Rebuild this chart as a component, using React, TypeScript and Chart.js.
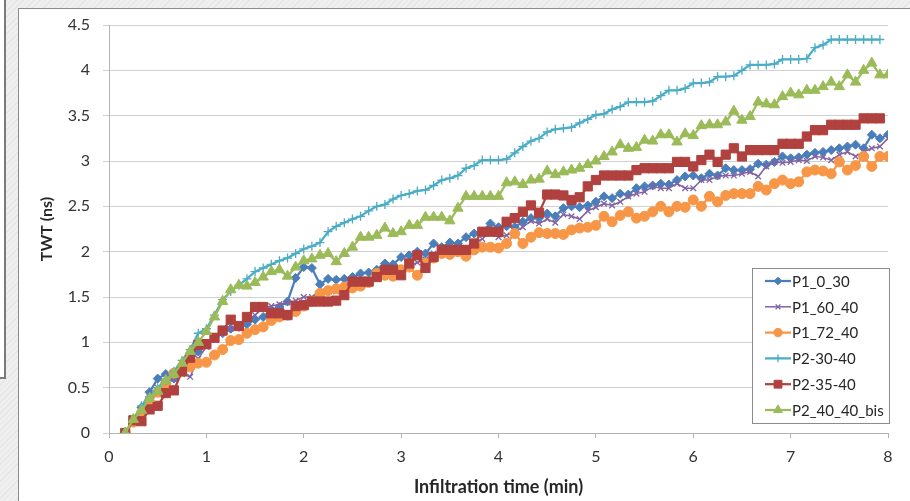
import React, { useEffect, useRef } from 'react';
import { Chart, registerables } from 'chart.js';
import { drawPoint } from 'chart.js/helpers';

Chart.register(...registerables);

// sample times in seconds (5 s acquisition step)
const timeSec = [
  10, 15, 20, 25, 30, 35, 40, 45, 50, 55,
  60, 65, 70, 75, 80, 85, 90, 95, 100, 105,
  110, 115, 120, 125, 130, 135, 140, 145, 150, 155,
  160, 165, 170, 175, 180, 185, 190, 195, 200, 205,
  210, 215, 220, 225, 230, 235, 240, 245, 250, 255,
  260, 265, 270, 275, 280, 285, 290, 295, 300, 305,
  310, 315, 320, 325, 330, 335, 340, 345, 350, 355,
  360, 365, 370, 375, 380, 385, 390, 395, 400, 405,
  410, 415, 420, 425, 430, 435, 440, 445, 450, 455,
  460, 465, 470, 475, 480,
];

const p1_0_30 = [
  0, 0.15, 0.28, 0.45, 0.6, 0.65, 0.6, 0.7, 0.8, 0.9,
  0.98, 1.05, 1.1, 1.15, 1.17, 1.2, 1.25, 1.28, 1.36, 1.39,
  1.45, 1.71, 1.83, 1.82, 1.64, 1.7, 1.69, 1.7, 1.72, 1.76,
  1.77, 1.8, 1.87, 1.86, 1.94, 1.96, 2.0, 1.98, 2.09, 2.05,
  2.1, 2.09, 2.16, 2.2, 2.22, 2.31, 2.27, 2.28, 2.27, 2.33,
  2.37, 2.37, 2.42, 2.39, 2.48, 2.5, 2.49, 2.51, 2.55, 2.61,
  2.59, 2.64, 2.63, 2.7, 2.72, 2.73, 2.75, 2.74, 2.79, 2.83,
  2.84, 2.81, 2.86, 2.84, 2.92, 2.9, 2.9, 2.91, 2.97, 2.96,
  2.99, 3.05, 3.03, 3.04, 3.07, 3.09, 3.1, 3.12, 3.14, 3.16,
  3.18, 3.14, 3.29, 3.25, 3.29,
];

const p1_60_40 = [
  0, 0.12, 0.25, 0.4, 0.5, 0.55, 0.6, 0.65, 0.62, 0.82,
  0.95, 1.05, 1.12, 1.15, 1.2, 1.25, 1.3, 1.38, 1.4, 1.42,
  1.44, 1.46, 1.5, 1.5, 1.55, 1.56, 1.56, 1.58, 1.62, 1.66,
  1.69, 1.71, 1.74, 1.77, 1.8, 1.84, 1.88, 1.91, 1.98, 1.98,
  2.02, 2.05, 2.04, 2.1, 2.14, 2.22, 2.16, 2.18, 2.22, 2.27,
  2.34, 2.31, 2.36, 2.32, 2.41, 2.39, 2.36, 2.45, 2.49, 2.53,
  2.51, 2.55, 2.61, 2.64, 2.66, 2.72, 2.7, 2.7, 2.75, 2.7,
  2.7, 2.79, 2.79, 2.83, 2.84, 2.84, 2.86, 2.88, 2.83, 2.94,
  2.99, 2.98, 2.99, 3.01, 3.0, 3.05, 3.04, 3.01, 3.07, 3.1,
  3.05, 3.1, 3.14, 3.16, 3.25,
];

const p1_72_40 = [
  0, 0.12, 0.22, 0.32, 0.45, 0.55, 0.66, 0.68, 0.73, 0.77,
  0.78, 0.86, 0.92, 1.02, 1.03, 1.1, 1.14, 1.17, 1.24, 1.28,
  1.3, 1.34, 1.4, 1.45, 1.54, 1.57, 1.59, 1.61, 1.6, 1.62,
  1.66, 1.76, 1.74, 1.73, 1.8, 1.83, 1.74, 1.87, 1.93, 1.98,
  1.97, 2.0, 1.95, 2.02, 2.05, 2.05, 2.04, 2.09, 2.2, 2.09,
  2.16, 2.21, 2.2, 2.2, 2.19, 2.24, 2.26, 2.27, 2.29, 2.39,
  2.33, 2.4, 2.44, 2.37, 2.39, 2.44, 2.5, 2.44, 2.5, 2.49,
  2.57, 2.5, 2.61, 2.55, 2.62, 2.64, 2.64, 2.64, 2.72, 2.68,
  2.75, 2.79, 2.75, 2.77, 2.88, 2.9, 2.89, 2.86, 2.99, 2.9,
  2.95, 3.05, 2.94, 3.05, 3.05,
];

const p2_30_40 = [
  0, 0.15, 0.3, 0.4, 0.5, 0.58, 0.68, 0.8, 0.92, 1.1,
  1.15, 1.3, 1.47, 1.56, 1.63, 1.7, 1.78, 1.82, 1.86, 1.9,
  1.93, 1.98, 2.03, 2.06, 2.1, 2.22, 2.28, 2.32, 2.36, 2.39,
  2.45, 2.5, 2.52, 2.58, 2.62, 2.64, 2.67, 2.68, 2.73, 2.79,
  2.81, 2.84, 2.92, 2.95, 3.01, 3.01, 3.01, 3.02, 3.09, 3.16,
  3.22, 3.25, 3.32, 3.35, 3.36, 3.37, 3.42, 3.46, 3.51, 3.52,
  3.57, 3.6, 3.65, 3.65, 3.65, 3.66, 3.72, 3.78, 3.78, 3.8,
  3.86, 3.86, 3.87, 3.93, 3.93, 3.94, 4.0, 4.06, 4.06, 4.06,
  4.07, 4.12, 4.12, 4.12, 4.13, 4.25, 4.28, 4.34, 4.34, 4.34,
  4.34, 4.34, 4.34, 4.34,
];

const p2_35_40 = [
  0, 0.14, 0.13, 0.26, 0.3, 0.44, 0.47, 0.68, 0.83, 0.97,
  0.98, 1.05, 1.13, 1.25, 1.18, 1.28, 1.39, 1.39, 1.32, 1.32,
  1.3, 1.4, 1.41, 1.45, 1.45, 1.45, 1.46, 1.52, 1.67, 1.67,
  1.67, 1.72, 1.8, 1.8, 1.74, 1.87, 1.96, 1.82, 1.94, 2.02,
  2.02, 2.02, 2.02, 2.09, 2.22, 2.22, 2.22, 2.33, 2.37, 2.44,
  2.51, 2.43, 2.63, 2.63, 2.62, 2.57, 2.6, 2.72, 2.79, 2.84,
  2.84, 2.84, 2.84, 2.9, 2.92, 2.92, 2.92, 2.92, 2.99, 2.99,
  2.94, 3.01, 3.07, 2.99, 3.07, 3.14, 3.05, 3.12, 3.12, 3.12,
  3.12, 3.19, 3.19, 3.19, 3.27, 3.34, 3.34, 3.4, 3.4, 3.4,
  3.4, 3.47, 3.47, 3.47,
];

const p2_40_40_bis = [
  0, 0.15, 0.25, 0.38, 0.46, 0.58, 0.65, 0.77, 0.9, 1.0,
  1.12, 1.28, 1.45, 1.58, 1.63, 1.62, 1.66, 1.72, 1.78, 1.8,
  1.73, 1.83, 1.9, 1.92, 1.96, 1.98, 1.89, 1.98, 2.05, 2.16,
  2.16, 2.18, 2.26, 2.2, 2.22, 2.29, 2.29, 2.38, 2.38, 2.38,
  2.34, 2.48, 2.61, 2.61, 2.61, 2.61, 2.61, 2.76, 2.77, 2.74,
  2.79, 2.8, 2.89, 2.85, 2.88, 2.9, 2.92, 2.96, 3.0, 3.05,
  3.1, 3.18, 3.14, 3.15, 3.23, 3.22, 3.29, 3.29, 3.21, 3.3,
  3.28, 3.39, 3.4, 3.4, 3.43, 3.55, 3.45, 3.49, 3.65, 3.63,
  3.62, 3.71, 3.75, 3.73, 3.78, 3.78, 3.82, 3.87, 3.82, 3.95,
  3.87, 4.0, 4.08, 3.95, 3.95,
];

const seriesNames = ['P1_0_30', 'P1_60_40', 'P1_72_40', 'P2-30-40', 'P2-35-40', 'P2_40_40_bis'];
const seriesValues = [p1_0_30, p1_60_40, p1_72_40, p2_30_40, p2_35_40, p2_40_40_bis];
const seriesColors = ['#4a7ebb', '#8064a2', '#f79646', '#4bacc6', '#b0413e', '#9bbb59'];
const seriesMarkers = ['rectRot', 'crossRot', 'circle', 'cross', 'rect', 'triangle'];
const markerRadius = [4.5, 4, 5, 4.5, 6.5, 6];
const lineWidths = [2.25, 1.5, 2.25, 2.25, 2.25, 2.25];

const xTicks = [0, 1, 2, 3, 4, 5, 6, 7, 8];
const yTickStep = 0.5;
const yMax = 4.5;

const FONT = 'Lato, "Open Sans", "Liberation Sans", sans-serif';

const boxLegend = {
  id: 'boxLegend',
  afterDraw(chart: any) {
    const { ctx, chartArea } = chart;
    const w = 137;
    const h = 155;
    const right = chartArea.right + 1;
    const bottom = chartArea.bottom - 10;
    const left = right - w;
    const top = bottom - h;
    ctx.save();
    ctx.fillStyle = '#ffffff';
    ctx.fillRect(left, top, w, h);
    ctx.strokeStyle = '#8c8c8c';
    ctx.lineWidth = 1;
    ctx.strokeRect(Math.round(left) + 0.5, Math.round(top) + 0.5, w, h);
    chart.data.datasets.forEach((ds: any, i: number) => {
      const cy = top + 13 + i * 25.8;
      const lx0 = left + 13;
      const lx1 = left + 39;
      ctx.strokeStyle = ds.borderColor;
      ctx.lineWidth = ds.borderWidth;
      ctx.beginPath();
      ctx.moveTo(lx0, cy);
      ctx.lineTo(lx1, cy);
      ctx.stroke();
      ctx.fillStyle = ds.pointBackgroundColor;
      ctx.strokeStyle = ds.pointBorderColor;
      ctx.lineWidth = ds.pointBorderWidth;
      drawPoint(ctx, { pointStyle: ds.pointStyle, radius: ds.pointRadius * 0.85, rotation: 0, borderWidth: ds.pointBorderWidth }, (lx0 + lx1) / 2, cy);
      ctx.fillStyle = '#262626';
      ctx.font = '15px ' + FONT;
      ctx.textBaseline = 'middle';
      ctx.textAlign = 'left';
      ctx.fillText(ds.label, lx1 + 1, cy + 1);
    });
    ctx.restore();
  },
};

export default function App() {
  const canvasRef = useRef<HTMLCanvasElement | null>(null);

  useEffect(() => {
    if (!canvasRef.current) return;
    const datasets = seriesNames.map((name, k) => ({
      label: name,
      data: seriesValues[k].map((v, i) => ({ x: timeSec[i] / 60, y: v })),
      borderColor: seriesColors[k],
      backgroundColor: seriesColors[k],
      pointBackgroundColor: seriesColors[k],
      pointBorderColor: seriesColors[k],
      pointBorderWidth: seriesMarkers[k] === 'cross' || seriesMarkers[k] === 'crossRot' ? 1.3 : 1,
      borderWidth: lineWidths[k],
      pointStyle: seriesMarkers[k],
      pointRadius: markerRadius[k],
      tension: 0,
      fill: false,
      order: seriesNames.length - k,
    }));

    const chart = new Chart(canvasRef.current, {
      type: 'line',
      data: { datasets },
      plugins: [boxLegend],
      options: {
        animation: false,
        responsive: false,
        maintainAspectRatio: false,
        layout: { padding: { left: 30, right: 22, top: 25, bottom: 3 } },
        plugins: {
          legend: { display: false },
          tooltip: { enabled: false },
        },
        scales: {
          x: {
            type: 'linear',
            min: 0,
            max: 8,
            afterBuildTicks: (scale: any) => {
              scale.ticks = xTicks.map((v) => ({ value: v }));
            },
            afterFit: (scale: any) => {
              scale.height = 65;
            },
            ticks: {
              color: '#333333',
              font: { family: FONT, size: 16 },
              padding: 9,
              maxRotation: 0,
              callback: (v: any) => String(v),
            },
            grid: {
              drawOnChartArea: false,
              drawTicks: true,
              tickLength: 5,
              color: '#b3b3b3',
            },
            border: { color: '#b3b3b3', width: 1 },
            title: {
              display: true,
              text: 'Infiltration time (min)',
              color: '#262626',
              font: { family: FONT, size: 18, weight: 'bold' },
              padding: { top: 0, bottom: 0 },
            },
          },
          y: {
            type: 'linear',
            min: 0,
            max: yMax,
            afterFit: (scale: any) => {
              scale.width = 79;
            },
            ticks: {
              stepSize: yTickStep,
              color: '#333333',
              font: { family: FONT, size: 16 },
              padding: 13,
              callback: (v: any) => String(Math.round(Number(v) * 10) / 10),
            },
            grid: {
              color: '#d0d0d0',
              tickLength: 6,
              drawTicks: true,
            },
            border: { color: '#b3b3b3', width: 1 },
            title: {
              display: true,
              text: 'TWT (ns)',
              color: '#262626',
              font: { family: FONT, size: 16, weight: 'bold' },
              padding: { top: 7, bottom: 0 },
            },
          },
        },
      },
    } as any);

    return () => chart.destroy();
  }, []);

  return (
    <div
      style={{
        position: 'fixed',
        left: 0,
        top: 0,
        width: 910,
        height: 501,
        overflow: 'hidden',
        background: '#efefef',
        backgroundImage:
          'repeating-linear-gradient(135deg, rgba(0,0,0,0.04) 0px, rgba(0,0,0,0.04) 1px, transparent 1px, transparent 4px)',
      }}
    >
      <div
        style={{
          position: 'absolute',
          left: 0,
          top: 0,
          width: 4,
          height: 377,
          background: '#ffffff',
          borderRight: '2px solid #7a7a7a',
          borderBottom: '2px solid #7a7a7a',
        }}
      />
      <div
        style={{
          position: 'absolute',
          left: 18,
          top: 8,
          width: 920,
          height: 520,
          background: '#ffffff',
          border: '1px solid #8c8c8c',
          boxSizing: 'border-box',
        }}
      />
      <canvas
        ref={canvasRef}
        width={910}
        height={501}
        style={{ position: 'absolute', left: 0, top: 0, width: 910, height: 501 }}
      />
    </div>
  );
}
